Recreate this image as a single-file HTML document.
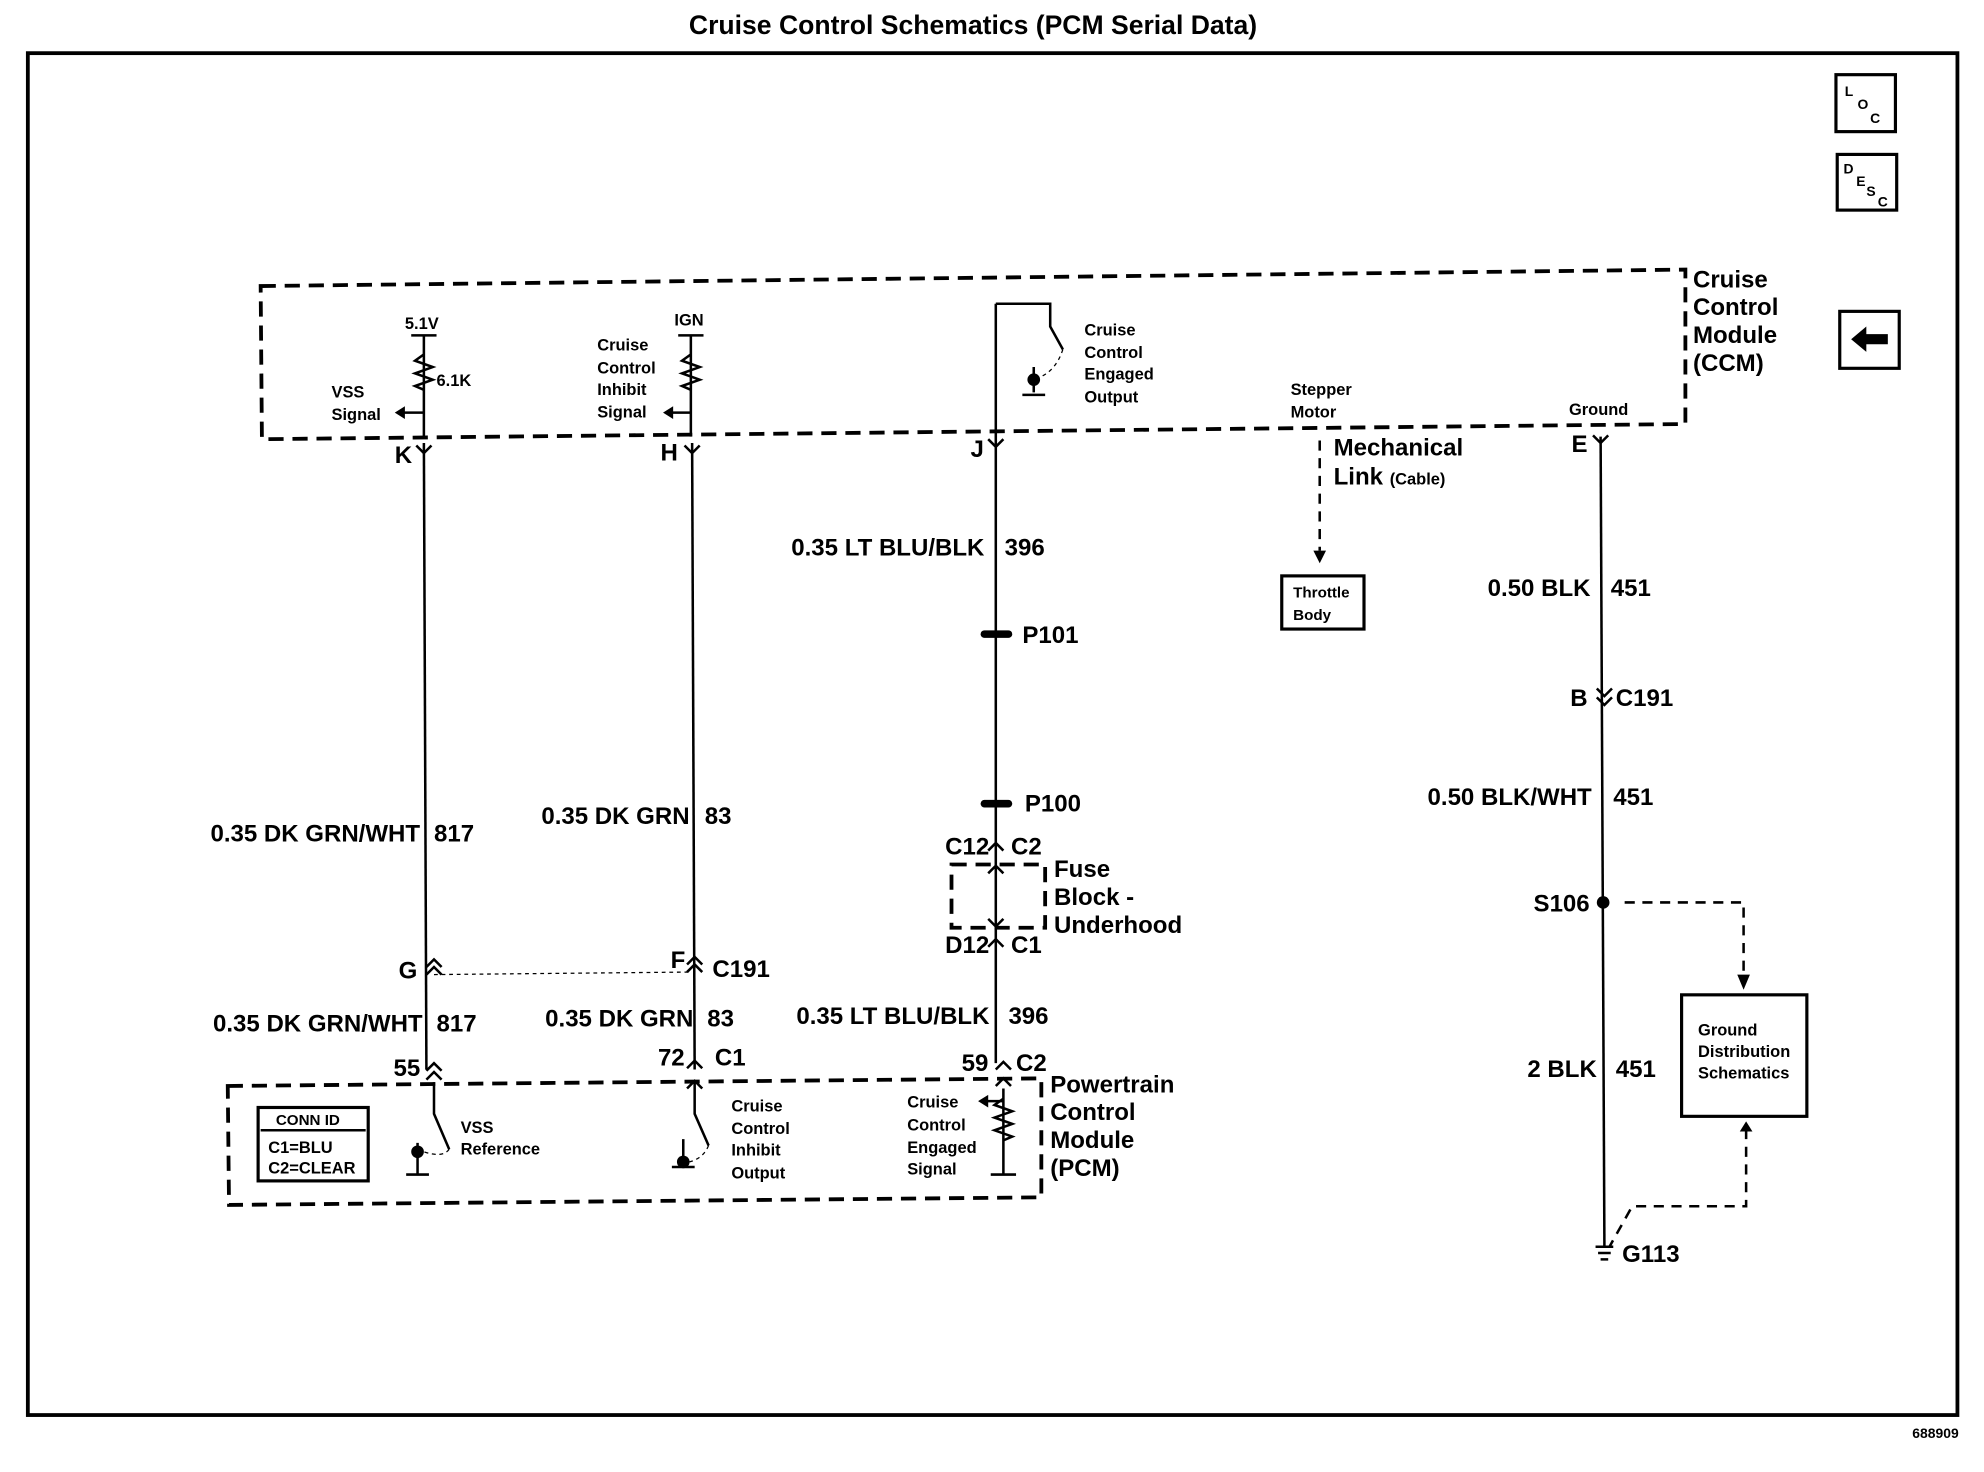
<!DOCTYPE html>
<html><head><meta charset="utf-8"><style>
html,body{margin:0;padding:0;background:#fff;}
svg{display:block;}
text{font-family:"Liberation Sans",sans-serif;font-weight:bold;fill:#000;}
</style></head><body>
<svg width="1984" height="1472" viewBox="0 0 1568 1163" preserveAspectRatio="none" xmlns="http://www.w3.org/2000/svg">
<rect width="1568" height="1163" fill="#fff"/>
<text x="769" y="27" font-size="21" text-anchor="middle">Cruise Control Schematics (PCM Serial Data)</text>
<rect x="22" y="42" width="1525" height="1076" fill="none" stroke="#000" stroke-width="3"/>
<text x="1548" y="1136" font-size="11" text-anchor="end">688909</text>
<rect x="1451" y="59" width="47" height="45" fill="none" stroke="#000" stroke-width="2.5"/>
<text x="1458" y="76" font-size="11" font-weight="normal">L</text><text x="1468" y="86" font-size="11" font-weight="normal">O</text><text x="1478" y="97" font-size="11" font-weight="normal">C</text>
<rect x="1452" y="122" width="47" height="44" fill="none" stroke="#000" stroke-width="2.5"/>
<text x="1457" y="137" font-size="11" font-weight="normal">D</text><text x="1467" y="147" font-size="11" font-weight="normal">E</text><text x="1475" y="155" font-size="11" font-weight="normal">S</text><text x="1484" y="163" font-size="11" font-weight="normal">C</text>
<rect x="1454" y="246" width="47" height="45" fill="none" stroke="#000" stroke-width="2.5"/>
<path d="M1463 268 L1475 258 L1475 264 L1492 264 L1492 272 L1475 272 L1475 278 Z" fill="#000"/>
<g fill="none" stroke="#000" stroke-width="3" stroke-dasharray="12,7">
<path d="M206 226 L1332 213 L1332 335 L207 347 Z"/>
<path d="M180 858 L823 852 L823 946 L181 952 Z"/>
<path d="M752 683 L826 683 L826 733 L752 733 Z"/>
</g>
<g fill="none" stroke="#000" stroke-width="2" stroke-dasharray="8,6">
<path d="M1043 348 L1043 435"/>
<path d="M1284 713 L1378 713 L1378 775"/>
<path d="M1380 892 L1380 953 L1290 953 L1272 985"/>
</g>
<path d="M1043 445 L1038 435 L1048 435 Z"/>
<path d="M1378 782 L1373 770 L1383 770 Z"/>
<path d="M1380 886 L1375 894 L1385 894 Z"/>
<g stroke="#000" stroke-width="1" stroke-dasharray="3,3" fill="none"><path d="M343 770 L546 768"/>
<path d="M840 276 Q835 292 822 298"/><path d="M355 908 Q350 915 335 910"/><path d="M560 905 Q556 915 545 918"/></g>
<line x1="1265" y1="345" x2="1268" y2="985" stroke="#000" stroke-width="2"/>
<g stroke="#000" stroke-width="2" fill="none">
<path d="M335 350 L337 845"/>
<path d="M547 350 L549 845"/>
<path d="M787 240 L787 840"/>
<path d="M787 240 L830 240 L830 258 L840 276"/>
<path d="M335 265 L335 345 M325 265 L345 265"/>
<path d="M546 265 L546 345 M536 265 L556 265"/>
<path d="M335 280 l-7 5 l14 5 l-14 5 l14 5 l-14 5 l7 3" />
<path d="M546 280 l-7 5 l14 5 l-14 5 l14 5 l-14 5 l7 3" />
<path d="M335 326 L318 326 M546 326 L530 326"/>
<path d="M793 860 L793 928 M783 928 L803 928"/>
<path d="M793 868 l-7 5 l14 5 l-14 5 l14 5 l-14 5 l14 5 l-7 3"/>
<path d="M793 870 L780 870"/>
<path d="M343 855 L343 880 L355 908 M549 855 L549 880 L560 905"/>
<path d="M330 903 L330 928 M321 928 L339 928 M540 900 L540 922 M531 922 L549 922 M817 290 L817 310 M808 312 L826 312"/>
</g>
<path d="M312 326 L320 321 L320 331 Z M524 326 L532 321 L532 331 Z M773 870 L781 865 L781 875 Z"/>
<circle cx="330" cy="910" r="5"/><circle cx="540" cy="918" r="5"/><circle cx="817" cy="300" r="5"/>
<circle cx="1267" cy="713" r="5"/>
<g fill="#000"><rect x="775" y="498" width="25" height="6" rx="3"/><rect x="775" y="632" width="25" height="6" rx="3"/></g>
<rect x="1013" y="455" width="65" height="42" fill="none" stroke="#000" stroke-width="2.5"/>
<text x="1022" y="472" font-size="12">Throttle</text><text x="1022" y="490" font-size="12">Body</text>
<rect x="1329" y="786" width="99" height="96" fill="none" stroke="#000" stroke-width="2.5"/>
<text x="1342" y="818" font-size="13">Ground</text><text x="1342" y="835" font-size="13">Distribution</text><text x="1342" y="852" font-size="13">Schematics</text>
<rect x="204" y="875" width="87" height="58" fill="none" stroke="#000" stroke-width="2.5"/>
<line x1="206" y1="893" x2="289" y2="893" stroke="#000" stroke-width="2"/>
<text x="218" y="889" font-size="12">CONN ID</text><text x="212" y="911" font-size="13">C1=BLU</text><text x="212" y="927" font-size="13">C2=CLEAR</text>
<g font-size="13">
<text x="320" y="260">5.1V</text><text x="533" y="257">IGN</text><text x="345" y="305">6.1K</text>
<text x="262" y="314">VSS</text><text x="262" y="332">Signal</text>
<text x="472" y="277">Cruise</text><text x="472" y="295">Control</text><text x="472" y="312">Inhibit</text><text x="472" y="330">Signal</text>
<text x="857" y="265">Cruise</text><text x="857" y="283">Control</text><text x="857" y="300">Engaged</text><text x="857" y="318">Output</text>
<text x="1020" y="312">Stepper</text><text x="1020" y="330">Motor</text><text x="1240" y="328">Ground</text>
<text x="364" y="895">VSS</text><text x="364" y="912">Reference</text>
<text x="578" y="878">Cruise</text><text x="578" y="896">Control</text><text x="578" y="913">Inhibit</text><text x="578" y="931">Output</text>
<text x="717" y="875">Cruise</text><text x="717" y="893">Control</text><text x="717" y="911">Engaged</text><text x="717" y="928">Signal</text>
</g>
<g font-size="19" font-weight="normal">
<text x="1338" y="227">Cruise</text><text x="1338" y="249">Control</text><text x="1338" y="271">Module</text><text x="1338" y="293">(CCM)</text>
<text x="1054" y="360">Mechanical</text><text x="1054" y="383">Link <tspan font-size="13">(Cable)</tspan></text>
<text x="833" y="693">Fuse</text><text x="833" y="715">Block -</text><text x="833" y="737">Underhood</text>
<text x="830" y="863">Powertrain</text><text x="830" y="885">Control</text><text x="830" y="907">Module</text><text x="830" y="929">(PCM)</text>
</g>
<g font-size="19">
<text x="312" y="366">K</text><text x="522" y="364">H</text><text x="767" y="361">J</text><text x="1242" y="357">E</text>
<text x="778" y="439" text-anchor="end">0.35 LT BLU/BLK</text><text x="794" y="439">396</text>
<text x="808" y="508">P101</text><text x="810" y="641">P100</text>
<text x="1257" y="471" text-anchor="end">0.50 BLK</text><text x="1273" y="471">451</text>
<text x="1241" y="558">B</text><text x="1277" y="558">C191</text>
<text x="1258" y="636" text-anchor="end">0.50 BLK/WHT</text><text x="1275" y="636">451</text>
<text x="1212" y="720">S106</text>
<text x="1262" y="851" text-anchor="end">2 BLK</text><text x="1277" y="851">451</text>
<text x="1282" y="997">G113</text>
<text x="332" y="665" text-anchor="end">0.35 DK GRN/WHT</text><text x="343" y="665">817</text>
<text x="545" y="651" text-anchor="end">0.35 DK GRN</text><text x="557" y="651">83</text>
<text x="747" y="675">C12</text><text x="799" y="675">C2</text>
<text x="747" y="753">D12</text><text x="799" y="753">C1</text>
<text x="315" y="773">G</text><text x="530" y="765">F</text><text x="563" y="772">C191</text>
<text x="334" y="815" text-anchor="end">0.35 DK GRN/WHT</text><text x="345" y="815">817</text>
<text x="548" y="811" text-anchor="end">0.35 DK GRN</text><text x="559" y="811">83</text>
<text x="782" y="809" text-anchor="end">0.35 LT BLU/BLK</text><text x="797" y="809">396</text>
<text x="311" y="850">55</text><text x="520" y="842">72</text><text x="565" y="842">C1</text>
<text x="760" y="846">59</text><text x="803" y="846">C2</text>
</g>
<g stroke="#000" stroke-width="2" fill="none">
<path d="M329 352 L335 358 L341 352 M541 352 L547 358 L553 352 M781 347 L787 353 L793 347 M1259 344 L1265 350 L1271 344"/>
<path d="M1262 544 L1268 550 L1274 544 M1262 551 L1268 557 L1274 551"/>
<path d="M781 672 L787 666 L793 672 M781 748 L787 742 L793 748 M781 690 L787 684 L793 690 M781 726 L787 732 L793 726"/>
<path d="M337 764 L343 758 L349 764 M337 770 L343 764 L349 770 M543 762 L549 756 L555 762 M543 768 L549 762 L555 768"/>
<path d="M337 846 L343 840 L349 846 M543 844 L549 838 L555 844 M787 845 L793 839 L799 845 M337 853 L343 847 L349 853 M543 860 L549 854 L555 860 M787 858 L793 852 L799 858"/>
<path d="M1261 985 L1275 985 M1263 990 L1273 990 M1265 995 L1271 995"/>
</g>
</svg>
</body></html>
